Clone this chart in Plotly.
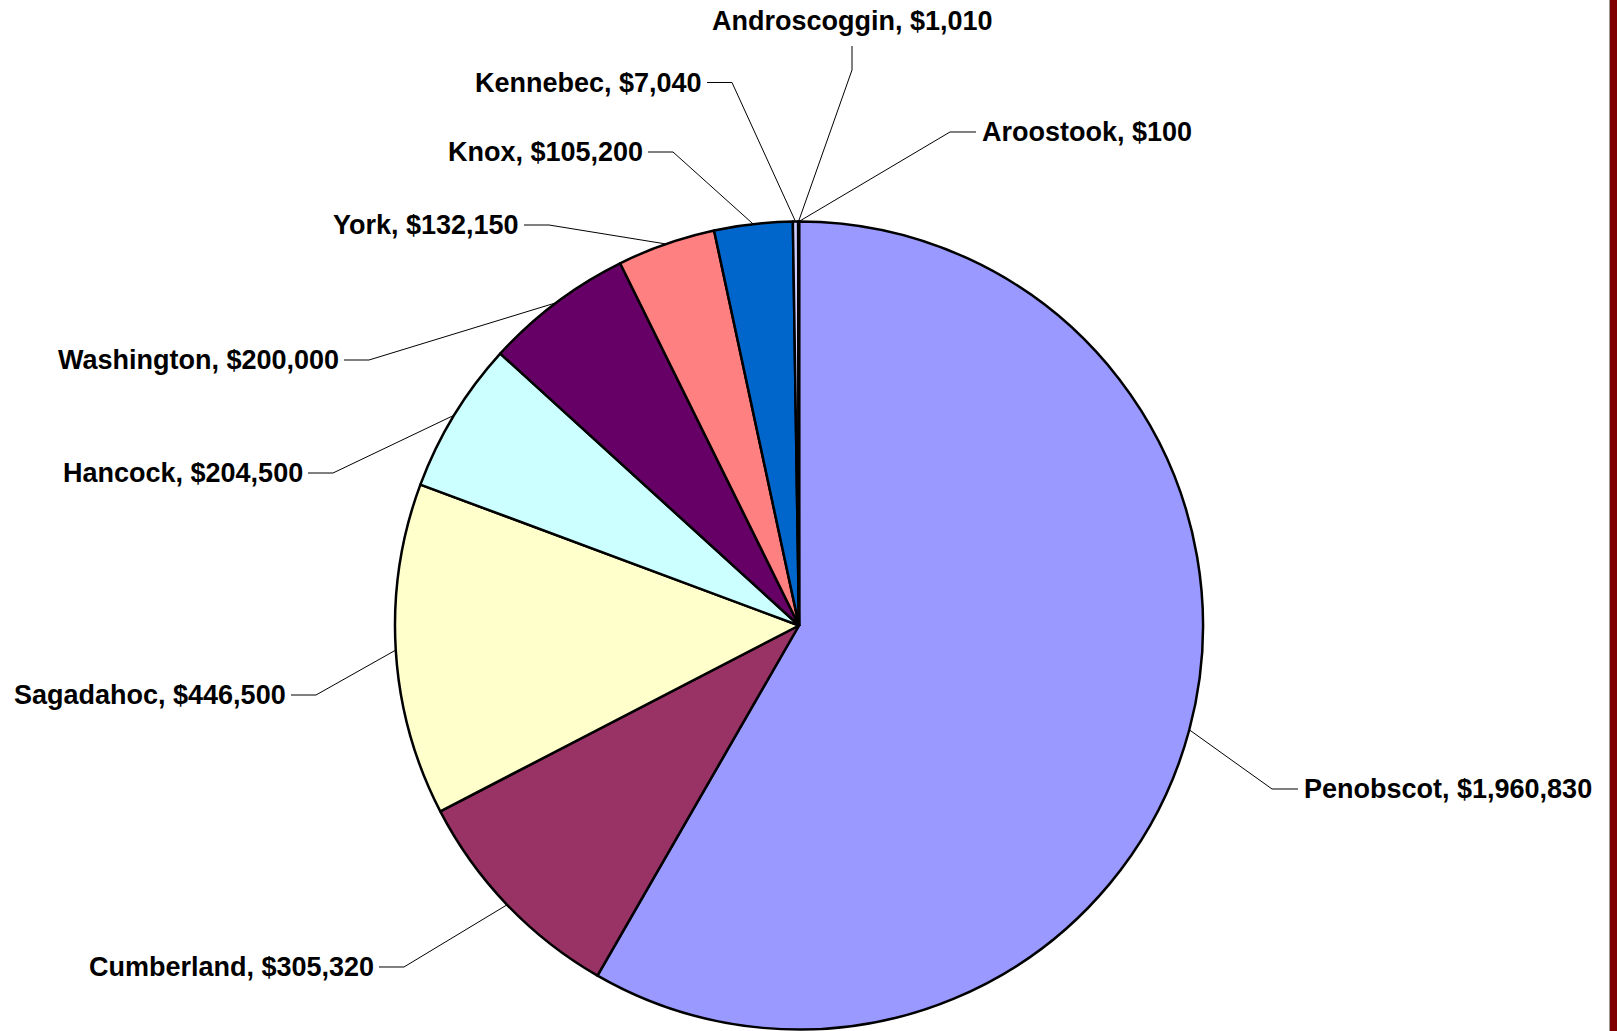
import math
import plotly.graph_objects as go

# County totals, in slice order (clockwise from 12 o'clock)
counties = ["Penobscot", "Cumberland", "Sagadahoc", "Hancock", "Washington",
            "York", "Knox", "Kennebec", "Androscoggin", "Aroostook"]
amounts = [1960830, 305320, 446500, 204500, 200000,
           132150, 105200, 7040, 1010, 100]
slice_colors = ["#9999FF", "#993366", "#FFFFCC", "#CCFFFF", "#660066",
                "#FF8080", "#0066CC", "#CCCCFF", "#000080", "#FF00FF"]

# Label placement in page pixels: (x, y, side of the leader line)
label_x = [1302, 376, 288, 305, 341, 521, 645, 704, 852, 980]
label_y = [789, 967, 695, 473, 360, 225, 152, 82.5, 21, 132]
label_side = ["right", "left", "left", "left", "left",
              "left", "left", "left", "top", "right"]

W, H = 1617, 1031
CX, CY, R = 799, 625.5, 404


def px(x):
    return x / W


def py(y):
    return 1 - y / H


fig = go.Figure(go.Pie(
    labels=counties,
    values=amounts,
    sort=False,
    direction="clockwise",
    rotation=0,
    marker=dict(colors=slice_colors, line=dict(color="#000000", width=2.5)),
    textinfo="none",
    hoverinfo="label+value",
    showlegend=False,
    domain=dict(x=[px(CX - R), px(CX + R)], y=[py(CY + R), py(CY - R)]),
))

total = sum(amounts)
shapes = []
annotations = []
cum = 0
for name, val, lx, ly, side in zip(counties, amounts, label_x, label_y, label_side):
    mid = (cum + val / 2) / total * 2 * math.pi
    cum += val
    ex = CX + R * math.sin(mid)
    ey = CY - R * math.cos(mid)
    text = f"{name}, ${val:,}"
    if side == "left":
        pts = [(lx + 3, ly), (lx + 28, ly), (ex, ey)]
        xa = "right"
    elif side == "right":
        pts = [(lx - 4, ly), (lx - 30, ly), (ex, ey)]
        xa = "left"
    else:
        pts = [(lx, ly + 25), (lx, ly + 49), (ex, ey)]
        xa = "center"
    path = "M " + " L ".join(f"{px(a):.6f},{py(b):.6f}" for a, b in pts)
    shapes.append(dict(type="path", xref="paper", yref="paper", path=path,
                       line=dict(color="#000000", width=1)))
    annotations.append(dict(
        x=px(lx), y=py(ly), xref="paper", yref="paper",
        text=text, showarrow=False, xanchor=xa, yanchor="middle",
        font=dict(family="Liberation Sans, Arial, sans-serif", size=27,
                  color="#000000", weight="bold"),
    ))

# Dark red border strip along the right edge
shapes.append(dict(type="rect", xref="paper", yref="paper",
                   x0=px(1609), x1=px(1610), y0=0, y1=1,
                   fillcolor="#999999", line=dict(width=0)))
shapes.append(dict(type="rect", xref="paper", yref="paper",
                   x0=px(1610), x1=1, y0=0, y1=1,
                   fillcolor="#800000", line=dict(width=0)))

fig.update_layout(
    width=W, height=H,
    margin=dict(l=0, r=0, t=0, b=0),
    paper_bgcolor="#FFFFFF",
    plot_bgcolor="#FFFFFF",
    shapes=shapes,
    annotations=annotations,
)

fig.write_html("out.html")
